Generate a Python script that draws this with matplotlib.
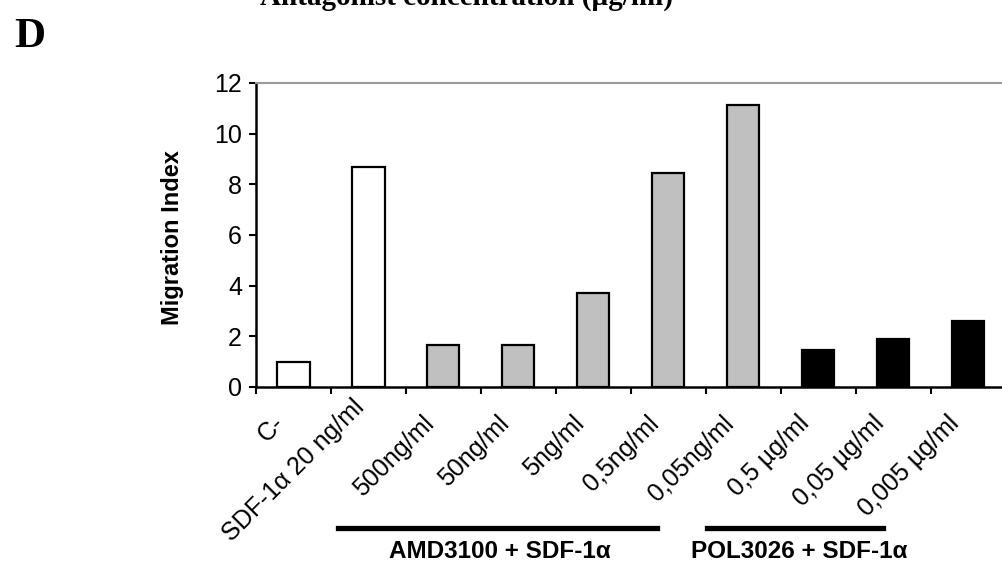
import matplotlib
matplotlib.use('Agg')
import matplotlib.pyplot as plt
from matplotlib.lines import Line2D
from matplotlib.transforms import ScaledTranslation

# data
labels = ['C-', 'SDF-1α 20 ng/ml', '500ng/ml', '50ng/ml', '5ng/ml', '0,5ng/ml',
          '0,05ng/ml', '0,5 µg/ml', '0,05 µg/ml', '0,005 µg/ml']
values = [1.0, 8.7, 1.65, 1.65, 3.7, 8.45, 11.15, 1.45, 1.9, 2.6]
bar_colors = ['white', 'white', '#c0c0c0', '#c0c0c0', '#c0c0c0', '#c0c0c0',
              '#c0c0c0', 'black', 'black', 'black']
groups = ['AMD3100 + SDF-1α', 'POL3026 + SDF-1α']
y_ticks = [0, 2, 4, 6, 8, 10, 12]

plt.rcParams['font.family'] = ['Liberation Sans', 'DejaVu Sans']

W, H = 1003, 568
fig = plt.figure(figsize=(W / 100, H / 100), dpi=100)

def fx(px):
    return px / W

def fy(py):
    return 1 - py / H

ax = fig.add_axes([fx(256), fy(387), fx(1005.5 - 256), (387 - 83) / H])

x = range(len(values))
ax.bar(x, values, width=0.43, color=bar_colors, edgecolor='black', linewidth=1.6)

ax.set_xlim(-0.5, len(values) - 0.5)
ax.set_ylim(0, 12)
ax.set_yticks(y_ticks)
ax.tick_params(axis='y', direction='out', length=5, width=1.5, labelsize=18, pad=5)

# category labels on major ticks, boundary ticks as minor
ax.set_xticks(list(x))
ax.set_xticklabels(labels, rotation=45, ha='right', va='center', rotation_mode='anchor',
                   fontsize=18)
ax.set_xticks([i - 0.5 for i in range(len(values) + 1)], minor=True)
ax.tick_params(axis='x', which='major', length=0, pad=14)
ax.tick_params(axis='x', which='minor', direction='out', length=5, width=1.5)
# excel pushes the long SDF label up a bit, the others sit lower
for i, t in enumerate(ax.get_xticklabels()):
    dx, dy = (-8, 3) if i == 1 else (-13, -13)
    t.set_transform(t.get_transform() + ScaledTranslation(dx / 100, dy / 100, fig.dpi_scale_trans))

ax.spines['left'].set_linewidth(1.8)
ax.spines['bottom'].set_linewidth(1.8)
ax.spines['top'].set_color('#999999')
ax.spines['top'].set_linewidth(1.5)
ax.spines['right'].set_visible(False)

ax.set_ylabel('Migration Index', fontsize=17, fontweight='bold', va='center')
ax.yaxis.set_label_coords(-0.111, 0.49)

# group underlines and names
fig.add_artist(Line2D([fx(338), fx(657)], [fy(528), fy(528)], color='black', lw=3.8,
                      transform=fig.transFigure))
fig.add_artist(Line2D([fx(707), fx(883)], [fy(528), fy(528)], color='black', lw=3.8,
                      transform=fig.transFigure))
fig.text(fx(500), fy(552), groups[0], ha='center', va='center', fontsize=17.5, fontweight='bold')
fig.text(fx(799), fy(552), groups[1], ha='center', va='center', fontsize=17.5, fontweight='bold')

# panel letter and the cut-off heading above
fig.text(fx(14), fy(47), 'D', fontsize=31, fontweight='bold', family='Liberation Serif',
         va='baseline')
fig.text(fx(467), fy(5), 'Antagonist concentration (µg/ml)', fontsize=21, fontweight='bold',
         family='Liberation Serif', ha='center', va='baseline')

fig.savefig('out.png', dpi=100)
